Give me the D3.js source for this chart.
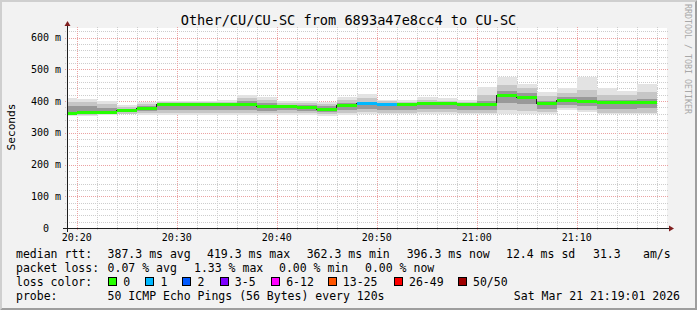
<!DOCTYPE html>
<html>
<head>
<meta charset="utf-8">
<script src="https://cdn.jsdelivr.net/npm/d3@7"></script>
<style>
body { margin: 0; background: #f2f2f2; }
svg { display: block; font-family: "DejaVu Sans Mono", monospace; }
text { white-space: pre; }
</style>
</head>
<body>
<script>
// bins end every 2 minutes, values in ms
var binEnds = ["20:20","20:22","20:24","20:26","20:28","20:30","20:32","20:34","20:36","20:38",
               "20:40","20:42","20:44","20:46","20:48","20:50","20:52","20:54","20:56","20:58",
               "21:00","21:02","21:04","21:06","21:08","21:10","21:12","21:14","21:16","21:18"];
var median  = [362.3,363,365.5,369.5,376.5,388,388,388.5,388.8,388,
               383,382,381.5,373,384.8,391,389.5,390,391.5,391,
               389,388.5,419.3,410,391.5,403,400,395,395,396.3];
var pingMin = [352,353,355,358,356,355,355,355,356,357,356,356,356,353,357,358,358,358,358,358,358,358,358,358,358,372,366,358,358,358];
var pingP10 = [356,356,358,361,362,362,362,362,362,363,362,363,362,358,363,365,364,364,365,365,364,364,372,368,365,378,372,364,364,364];
var pingP25 = [360,360,362,365,370,372,372,372,372,372,370,372,370,365,372,376,372,373,374,374,373,372,395,390,375,388,385,376,376,377];
var pingP75 = [385,384,378,376,384,392,392,392,393,400,393,388,387,384,393,398,394,394,397,396,394,400,432,425,402,412,412,405,404,408];
var pingP90 = [398,396,390,383,390,397,397,398,398,410,404,395,394,391,405,410,399,398,403,401,398,420,450,440,415,425,435,420,418,428];
var pingMax = [410,408,400,388,396,402,401,402,404,418,414,402,400,398,414,421,405,404,412,409,404,445,477,455,429,440,477,440,432,454];
var lostPings = [0,0,0,0,0,0,0,0,0,0,0,0,0,0,0,1,1,0,0,0,0,0,0,0,0,0,0,0,0,0];

var lossLabels = ["0","1","2","3-5","6-12","13-25","26-49","50/50"];
var lossColors = ["#26ff00","#00b8ff","#0059ff","#7e00ff","#ff00ff","#ff5500","#ff0000","#a00000"];

var yTicks = [0,100,200,300,400,500,600];
var yTickLabels = ["0  ","100 m","200 m","300 m","400 m","500 m","600 m"];
var xTickLabels = ["20:20","20:30","20:40","20:50","21:00","21:10"];

var W = 697, H = 310;
var pLeft = 67, pRight = 667, pTop = 28, pBottom = 228;
var day = "2026-03-21 ";
var parseHM = d3.timeParse("%Y-%m-%d %H:%M");
var parseHMS = d3.timeParse("%Y-%m-%d %H:%M:%S");

var x = d3.scaleTime()
    .domain([parseHMS(day + "20:19:01"), parseHMS(day + "21:19:01")])
    .range([pLeft, pRight]);
var y = d3.scaleLinear()
    .domain([0, 630.6])
    .range([pBottom, pTop]);

var svg = d3.select("body").append("svg")
    .attr("width", W)
    .attr("height", H);

// background + 3d border
svg.append("rect").attr("width", W).attr("height", H).attr("fill", "#f2f2f2");
svg.append("path").attr("d", "M0,310 L2,308 L2,2 L695,2 L697,0 L0,0 Z").attr("fill", "#cfcfcf");
svg.append("path").attr("d", "M2,308 L695,308 L695,2 L697,0 L697,310 L0,310 Z").attr("fill", "#9e9e9e");

svg.append("rect")
    .attr("x", pLeft).attr("y", pTop)
    .attr("width", pRight - pLeft).attr("height", pBottom - pTop)
    .attr("fill", "#ffffff");

// grid
var grid = svg.append("g").attr("shape-rendering", "crispEdges");
var hMinor = d3.range(20, 630, 20).filter(function(v){ return v % 100 !== 0; });
grid.selectAll(".hmin").data(hMinor).enter().append("line")
    .attr("x1", pLeft - 2).attr("x2", pRight + 2)
    .attr("y1", function(d){ return Math.round(y(d)) + 0.5; })
    .attr("y2", function(d){ return Math.round(y(d)) + 0.5; })
    .attr("stroke", "#cdcdcd").attr("stroke-dasharray", "1,1");
grid.selectAll(".hmaj").data(yTicks.slice(1)).enter().append("line")
    .attr("x1", pLeft - 2).attr("x2", pRight + 2)
    .attr("y1", function(d){ return Math.round(y(d)) + 0.5; })
    .attr("y2", function(d){ return Math.round(y(d)) + 0.5; })
    .attr("stroke", "#eba2a2").attr("stroke-dasharray", "1,1");

var vMinor = x.ticks(d3.timeMinute.every(2)).filter(function(d){ return d.getMinutes() % 10 !== 0; });
var vMajor = x.ticks(d3.timeMinute.every(10));
grid.selectAll(".vmin").data(vMinor).enter().append("line")
    .attr("x1", function(d){ return Math.round(x(d)) + 0.5; })
    .attr("x2", function(d){ return Math.round(x(d)) + 0.5; })
    .attr("y1", pBottom + 2).attr("y2", pTop - 2)
    .attr("stroke", "#cdcdcd").attr("stroke-dasharray", "1,1");
grid.selectAll(".vmaj").data(vMajor).enter().append("line")
    .attr("x1", function(d){ return Math.round(x(d)) + 0.5; })
    .attr("x2", function(d){ return Math.round(x(d)) + 0.5; })
    .attr("y1", pBottom + 2).attr("y2", pTop - 2)
    .attr("stroke", "#eba2a2").attr("stroke-dasharray", "1,1");

// smoke + median
svg.append("clipPath").attr("id", "clip").append("rect")
    .attr("x", pLeft).attr("y", pTop).attr("width", pRight - pLeft).attr("height", pBottom - pTop);
var plot = svg.append("g").attr("clip-path", "url(#clip)").attr("shape-rendering", "crispEdges");

var bins = binEnds.map(function(t, i){
    var end = parseHM(day + t);
    return {
        start: d3.timeMinute.offset(end, -2), end: end,
        med: median[i], lost: lostPings[i],
        bands: [[pingMin[i], pingMax[i]], [pingP10[i], pingP90[i]], [pingP25[i], pingP75[i]]]
    };
});
var shades = ["#e3e3e3", "#c6c6c6", "#999999"];

shades.forEach(function(c, k){
    plot.selectAll(".smoke" + k).data(bins).enter().append("rect")
        .attr("x", function(d){ return x(d.start); })
        .attr("width", function(d){ return x(d.end) - x(d.start); })
        .attr("y", function(d){ return y(d.bands[k][1]); })
        .attr("height", function(d){ return y(d.bands[k][0]) - y(d.bands[k][1]); })
        .attr("fill", c);
});

var medPts = [[bins[0].start, bins[0].med]].concat(bins.map(function(d){ return [d.end, d.med]; }));
plot.append("path")
    .attr("d", d3.line().x(function(d){ return x(d[0]); }).y(function(d){ return y(d[1]); })
        .curve(d3.curveStepBefore)(medPts))
    .attr("fill", "none").attr("stroke", "#202020").attr("stroke-width", 1);

function lossIndex(n){
    if (n <= 2) return n;
    if (n <= 5) return 3;
    if (n <= 12) return 4;
    if (n <= 25) return 5;
    if (n <= 49) return 6;
    return 7;
}
plot.selectAll(".med").data(bins).enter().append("rect")
    .attr("x", function(d){ return x(d.start); })
    .attr("width", function(d){ return x(d.end) - x(d.start); })
    .attr("y", function(d){ return y(d.med) - 1.5; })
    .attr("height", 3)
    .attr("fill", function(d){ return lossColors[lossIndex(d.lost)]; });

// axes
var axis = svg.append("g").attr("shape-rendering", "crispEdges");
axis.append("line").attr("x1", pLeft - 4).attr("x2", pRight + 4)
    .attr("y1", pBottom + 0.5).attr("y2", pBottom + 0.5).attr("stroke", "#1f1f1f");
axis.append("line").attr("x1", pLeft + 0.5).attr("x2", pLeft + 0.5)
    .attr("y1", pBottom + 4).attr("y2", pTop - 4).attr("stroke", "#1f1f1f");
svg.append("path")
    .attr("d", "M" + (pRight + 2) + "," + (pBottom - 2.5) + " L" + (pRight + 2) + "," + (pBottom + 3.5) +
               " L" + (pRight + 7) + "," + (pBottom + 0.5) + " Z")
    .attr("fill", "#801f1f");
svg.append("path")
    .attr("d", "M" + (pLeft - 2.5) + "," + (pTop - 2) + " L" + (pLeft + 3.5) + "," + (pTop - 2) +
               " L" + (pLeft + 0.5) + "," + (pTop - 7) + " Z")
    .attr("fill", "#801f1f");

svg.selectAll(".ylab").data(yTicks).enter().append("text")
    .attr("x", 61).attr("y", function(d){ return y(d) + 3.5; })
    .attr("text-anchor", "end").attr("font-size", "10px").attr("fill", "#000")
    .text(function(d, i){ return yTickLabels[i]; });

svg.selectAll(".xlab").data(vMajor).enter().append("text")
    .attr("x", function(d){ return x(d); }).attr("y", 240.5)
    .attr("text-anchor", "middle").attr("font-size", "10px")
    .text(function(d, i){ return xTickLabels[i]; });

// titles
svg.append("text").attr("x", 348.5).attr("y", 24.5).attr("text-anchor", "middle")
    .attr("font-size", "13.6px").text("Other/CU/CU-SC from 6893a47e8cc4 to CU-SC");
svg.append("text").attr("transform", "translate(14.5,127) rotate(-90)")
    .attr("text-anchor", "middle").attr("font-size", "11.2px").text("Seconds");
svg.append("text").attr("transform", "translate(685,4) rotate(90)")
    .attr("font-size", "8.3px").attr("fill", "#a8a8a8").text("RRDTOOL / TOBI OETIKER");

// legend
var lg = svg.append("g").attr("font-size", "11.5px");
function put(s, xx, yy, anchor){
    lg.append("text").attr("x", xx).attr("y", yy).attr("text-anchor", anchor || "start").text(s);
}
put("median rtt:", 16, 258);
put("387.3 ms avg", 107.6, 258);
put("419.3 ms max", 207, 258);
put("362.3 ms min", 306.7, 258);
put("396.3 ms now", 406.7, 258);
put("12.4 ms sd", 506, 258);
put("31.3", 593, 258);
put("am/s", 643, 258);

put("packet loss:", 16, 272);
put("0.07 % avg", 107.6, 272);
put("1.33 % max", 194, 272);
put("0.00 % min", 279, 272);
put("0.00 % now", 365, 272);

put("loss color:", 16, 286);
var swX = [108, 145.3, 182.2, 219.6, 271, 327.6, 393.8, 457.8];
lossLabels.forEach(function(l, i){
    lg.append("rect").attr("x", swX[i] + 0.5).attr("y", 277.5).attr("width", 8).attr("height", 8)
        .attr("fill", lossColors[i]).attr("stroke", "#000").attr("stroke-width", 1)
        .attr("shape-rendering", "crispEdges");
    put(l, swX[i] + 15.2, 286);
});

put("probe:", 16, 300);
put("50 ICMP Echo Pings (56 Bytes) every 120s", 107.6, 300);
put("Sat Mar 21 21:19:01 2026", 680, 300, "end");
</script>
</body>
</html>
